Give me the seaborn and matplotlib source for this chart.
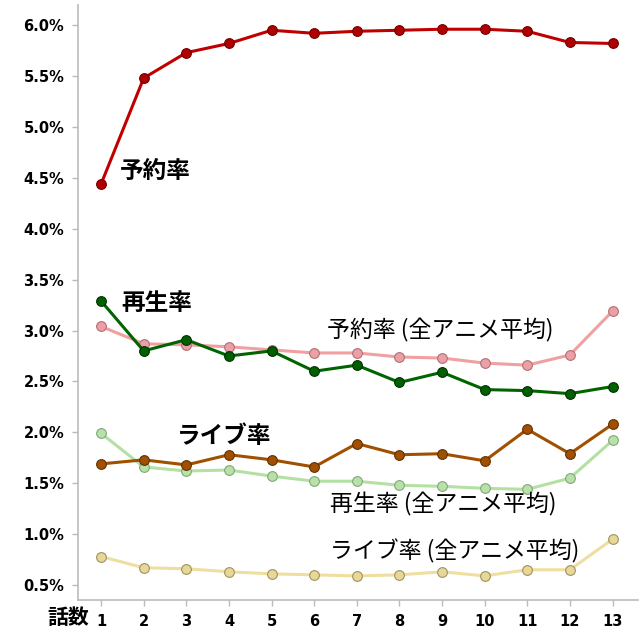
import numpy as np
import pandas as pd
import matplotlib
matplotlib.use("Agg")
import matplotlib.pyplot as plt
import seaborn as sns

# data (percent)
episodes = list(range(1, 14))
yoyaku = [4.44, 5.48, 5.73, 5.82, 5.95, 5.92, 5.94, 5.95, 5.96, 5.96, 5.94, 5.83, 5.82]
saisei = [3.29, 2.80, 2.91, 2.75, 2.80, 2.60, 2.66, 2.49, 2.59, 2.42, 2.41, 2.38, 2.45]
live = [1.69, 1.73, 1.68, 1.78, 1.73, 1.66, 1.89, 1.78, 1.79, 1.72, 2.03, 1.79, 2.08]
yoyaku_avg = [3.04, 2.87, 2.86, 2.84, 2.81, 2.78, 2.78, 2.74, 2.73, 2.68, 2.66, 2.76, 3.19]
saisei_avg = [1.99, 1.66, 1.62, 1.63, 1.57, 1.52, 1.52, 1.48, 1.47, 1.45, 1.44, 1.55, 1.92]
live_avg = [0.78, 0.67, 0.66, 0.63, 0.61, 0.60, 0.59, 0.60, 0.63, 0.59, 0.65, 0.65, 0.95]

y_ticks = [0.5, 1.0, 1.5, 2.0, 2.5, 3.0, 3.5, 4.0, 4.5, 5.0, 5.5, 6.0]

series = [
    # name, values, line colour, marker face, marker edge
    ("予約率 (全アニメ平均)", yoyaku_avg, "#F0A0A0", "#EBA0A8", "#B07070"),
    ("再生率 (全アニメ平均)", saisei_avg, "#B4E0A4", "#B8E0A8", "#80A878"),
    ("ライブ率 (全アニメ平均)", live_avg, "#EEDFA0", "#E8D898", "#A09060"),
    ("予約率", yoyaku, "#C00000", "#B00000", "#700000"),
    ("再生率", saisei, "#006400", "#006000", "#003000"),
    ("ライブ率", live, "#A05000", "#A05000", "#603000"),
]

sns.set_style("white")
plt.rcParams["font.family"] = ["Noto Sans CJK JP", "DejaVu Sans"]
plt.rcParams["text.color"] = "black"

fig = plt.figure(figsize=(6.4, 6.4), dpi=100)
ax = fig.add_axes([0.122, 0.0625, 0.875, 0.93])

for name, vals, lc, mf, me in series:
    df = pd.DataFrame({"ep": episodes, "v": vals})
    sns.lineplot(data=df, x="ep", y="v", ax=ax, color=lc, linewidth=2.2,
                 marker="o", markersize=7, markerfacecolor=mf,
                 markeredgecolor=me, markeredgewidth=0.8)

ax.set_xlim(0.46, 13.6)
ax.set_ylim(0.353, 6.2)
ax.set_xticks(episodes)
ax.set_xticklabels([str(e) for e in episodes])
ax.set_yticks(y_ticks)
ax.set_yticklabels([f"{t:.1f}%" for t in y_ticks])
ax.set_xlabel("")
ax.set_ylabel("")

for lab in ax.get_xticklabels() + ax.get_yticklabels():
    lab.set_fontfamily("DejaVu Sans")
    lab.set_fontweight("bold")
    lab.set_fontsize(10.5)
    lab.set_color("black")

ax.tick_params(axis="both", length=4, width=1, color="#BBBBBB", direction="out",
               bottom=True, left=True, pad=6)
for s in ["top", "right"]:
    ax.spines[s].set_visible(False)
for s in ["left", "bottom"]:
    ax.spines[s].set_color("#BBBBBB")
    ax.spines[s].set_linewidth(1.2)

# series labels
ax.text(1.43, 4.57, "予約率", fontsize=17, fontweight="bold", va="center", ha="left", color="black")
ax.text(1.48, 3.27, "再生率", fontsize=17, fontweight="bold", va="center", ha="left", color="black")
ax.text(2.78, 1.96, "ライブ率", fontsize=17, fontweight="bold", va="center", ha="left", color="black")
ax.text(6.3, 3.00, "予約率 (全アニメ平均)", fontsize=16.5, va="center", ha="left", color="black")
ax.text(6.37, 1.29, "再生率 (全アニメ平均)", fontsize=16.5, va="center", ha="left", color="black")
ax.text(6.37, 0.83, "ライブ率 (全アニメ平均)", fontsize=16.5, va="center", ha="left", color="black")

fig.text(47 / 640, 1 - 618 / 640, "話数", fontsize=15, fontweight="bold",
         va="center", ha="left", color="black")

fig.savefig("out.png", dpi=100)
